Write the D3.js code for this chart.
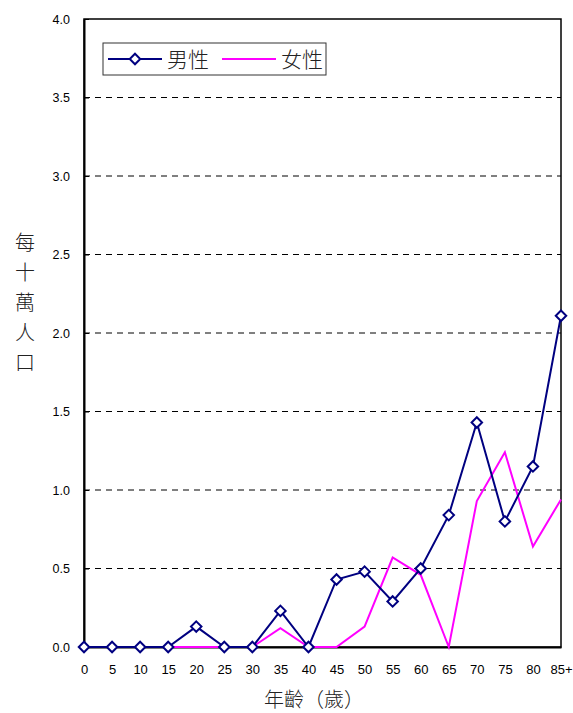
<!DOCTYPE html>
<html><head><meta charset="utf-8">
<script src="https://cdn.jsdelivr.net/npm/d3@7"></script>
<style>body{margin:0;background:#fff;}svg{display:block;}</style>
</head><body>
<script>
const categories = ["0","5","10","15","20","25","30","35","40","45","50","55","60","65","70","75","80","85+"];
const maleValues = [0,0,0,0,0.13,0,0,0.23,0,0.43,0.48,0.29,0.50,0.84,1.43,0.80,1.15,2.11];
const femaleValues = [0,0,0,0,0,0,0,0.12,0,0,0.13,0.57,0.46,0,0.93,1.24,0.64,0.94];
const yTicks = [0,0.5,1.0,1.5,2.0,2.5,3.0,3.5,4.0];
const seriesNames = ["男性","女性"];
const yTitleChars = ["每","十","萬","人","口"];
const xTitle = "年齡（歲）";

const W = 573, H = 713;
const L = 84, R = 561, T = 19, B = 647;
const svg = d3.select("body").append("svg").attr("width", W).attr("height", H);
const font = "Arial, 'Liberation Sans', sans-serif";
const cjk = "'Noto Sans CJK TC', 'Noto Sans CJK SC', sans-serif";

const x = d3.scalePoint().domain(categories).range([L, R]);
const y = d3.scaleLinear().domain([0, 4]).range([B, T]);

// gridlines
svg.append("g").selectAll("line").data(yTicks.filter(v => v > 0 && v < 4)).join("line")
  .attr("x1", L).attr("x2", R).attr("y1", d => y(d)).attr("y2", d => y(d))
  .attr("stroke", "#000").attr("stroke-width", 1).attr("stroke-dasharray", "6,5");

// plot border
svg.append("rect").attr("x", L).attr("y", T).attr("width", R - L).attr("height", B - T)
  .attr("fill", "none").attr("stroke", "#000").attr("stroke-width", 1.5);

// y axis
const yAxis = svg.append("g").attr("transform", `translate(${L},0)`)
  .call(d3.axisLeft(y).tickValues(yTicks).tickFormat(d3.format(".1f")).tickSizeInner(-5).tickSizeOuter(0).tickPadding(14));
yAxis.select(".domain").attr("stroke-width", 2);
yAxis.selectAll("text").attr("font-family", font).attr("font-size", 12.5).attr("fill", "#000");

// x axis labels
const xAxis = svg.append("g").attr("transform", `translate(0,${B})`)
  .call(d3.axisBottom(x).tickSize(0).tickPadding(18));
xAxis.select(".domain").attr("stroke-width", 2);
xAxis.selectAll("text").attr("font-family", font).attr("font-size", 13).attr("fill", "#000");

// lines
const line = d3.line().x((d, i) => x(categories[i])).y(d => y(d));
svg.append("path").datum(femaleValues).attr("d", line).attr("fill", "none")
  .attr("stroke", "#FF00FF").attr("stroke-width", 2);
svg.append("path").datum(maleValues).attr("d", line).attr("fill", "none")
  .attr("stroke", "#000080").attr("stroke-width", 2);

const diamond = d3.symbol().type(d3.symbolDiamond2).size(70);
svg.append("g").selectAll("path").data(maleValues).join("path")
  .attr("transform", (d, i) => `translate(${x(categories[i])},${y(d)})`)
  .attr("d", diamond).attr("fill", "#fff").attr("stroke", "#000080").attr("stroke-width", 2);

// legend
const lg = svg.append("g");
lg.append("rect").attr("x", 103).attr("y", 43).attr("width", 223).attr("height", 32)
  .attr("fill", "#fff").attr("stroke", "#333").attr("stroke-width", 1);
lg.append("line").attr("x1", 108).attr("x2", 162).attr("y1", 59).attr("y2", 59)
  .attr("stroke", "#000080").attr("stroke-width", 2);
lg.append("path").attr("transform", "translate(135,59)").attr("d", diamond)
  .attr("fill", "#fff").attr("stroke", "#000080").attr("stroke-width", 2);
lg.append("text").attr("x", 167).attr("y", 67).text(seriesNames[0])
  .attr("font-family", cjk).attr("font-weight", 300).attr("font-size", 21).attr("fill", "#222");
lg.append("line").attr("x1", 222).attr("x2", 276).attr("y1", 59).attr("y2", 59)
  .attr("stroke", "#FF00FF").attr("stroke-width", 2);
lg.append("text").attr("x", 281).attr("y", 67).text(seriesNames[1])
  .attr("font-family", cjk).attr("font-weight", 300).attr("font-size", 21).attr("fill", "#222");

// y title
svg.append("g").selectAll("text").data(yTitleChars).join("text")
  .attr("x", 25).attr("y", (d, i) => 250 + i * 30).attr("text-anchor", "middle")
  .attr("font-family", cjk).attr("font-weight", 300).attr("font-size", 20).attr("fill", "#222").text(d => d);

// x title
svg.append("text").attr("x", 314).attr("y", 707).attr("text-anchor", "middle")
  .attr("font-family", cjk).attr("font-weight", 300).attr("font-size", 20).attr("fill", "#222").text(xTitle);
</script>
</body></html>
